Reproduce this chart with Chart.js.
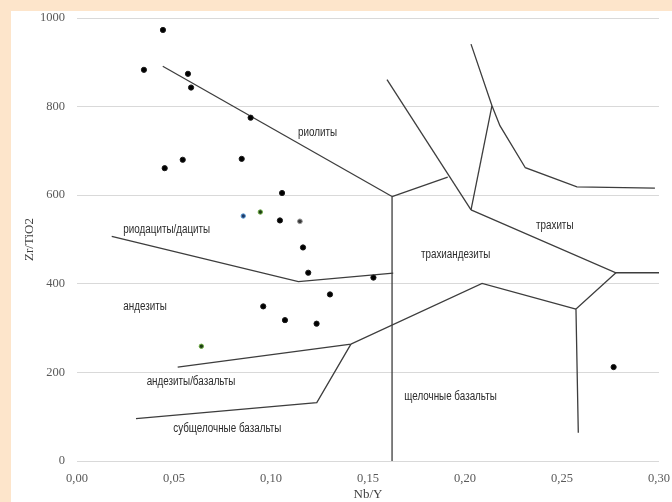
<!DOCTYPE html>
<html>
<head>
<meta charset="utf-8">
<script src="https://cdn.jsdelivr.net/npm/chart.js@4.4.1/dist/chart.umd.min.js"></script>
<style>
    html, body { margin: 0; padding: 0; background: #fde5cb; }
    #wrap { position: absolute; left: 11px; top: 11px; width: 661px; height: 491px; background: #fff; }
</style>
</head>
<body>
<div id="wrap"><canvas id="wfChart"></canvas></div>
<script>
// Оси
const xMin = 0, xMax = 0.30, xStep = 0.05;
const yMin = 0, yMax = 1000, yStep = 200;

// Границы полей (Nb/Y, Zr/TiO2)
const rhyoliteEdge = [[0.0442, 891], [0.1624, 597]];
const alkaliDivide = [[0.1624, 597], [0.1624, 0]];
const rhyoliteTrachyEdge = [[0.1624, 597], [0.1911, 641]];
const comenditeEdge = [[0.1598, 861], [0.2031, 567]];
const trachyteWedge = [[0.2031, 567], [0.2139, 802]];
const phonoliteEdge = [[0.2031, 941], [0.2139, 802], [0.2180, 757], [0.2311, 662], [0.2577, 619], [0.2979, 616]];
const trachyteEdge = [[0.2031, 567], [0.2778, 425], [0.30, 425]];
const basaniteEdge = [[0.2778, 425], [0.2572, 343], [0.2584, 64]];
const trachyandesiteEdge = [[0.2572, 343], [0.2088, 401], [0.1412, 264], [0.0519, 212]];
const subalkalineEdge = [[0.1412, 264], [0.1236, 132], [0.0304, 95.5]];
const daciteEdge = [[0.0179, 507], [0.1141, 405], [0.1630, 424]];

const boundaries = [rhyoliteEdge, alkaliDivide, rhyoliteTrachyEdge, comenditeEdge, trachyteWedge,
    phonoliteEdge, trachyteEdge, basaniteEdge, trachyandesiteEdge, subalkalineEdge, daciteEdge];

// Пробы
const samplesA = [[0.0443, 973], [0.0345, 883], [0.0572, 874], [0.0588, 843], [0.0895, 775],
    [0.0849, 682], [0.0545, 680], [0.0452, 661], [0.1057, 605], [0.1046, 543], [0.1165, 482],
    [0.1192, 425], [0.1304, 376], [0.0960, 349], [0.1072, 318], [0.1235, 310], [0.1528, 414],
    [0.2766, 212]];
const samplesB = [[0.0857, 553]];
const samplesC = [[0.0945, 562], [0.0641, 259]];
const samplesD = [[0.1149, 541]];

// Подписи полей
const fieldNames = ['риолиты', 'риодациты/дациты', 'андезиты', 'андезиты/базальты',
    'субщелочные базальты', 'щелочные базальты', 'трахиандезиты', 'трахиты'];
const fieldNbY = [0.1139, 0.0239, 0.0239, 0.0359, 0.0496, 0.1687, 0.1773, 0.2366];
const fieldZr = [742, 522, 348, 179, 73, 145, 465, 531];

function toXY(list) {
    return list.map(function(p) { return { x: p[0], y: p[1] }; });
}

function pointSet(list, fill, edge, radius) {
    return {
        data: toXY(list),
        showLine: false,
        pointRadius: radius,
        pointBackgroundColor: fill,
        pointBorderColor: edge,
        pointBorderWidth: 1,
        order: 0
    };
}

const datasets = boundaries.map(function(b) {
    return {
        data: toXY(b),
        showLine: true,
        borderColor: '#3d3d3d',
        borderWidth: 1.3,
        pointRadius: 0,
        fill: false,
        tension: 0,
        order: 1
    };
});
datasets.push(pointSet(samplesA, '#000', '#1a1a1a', 2.6));
datasets.push(pointSet(samplesB, '#1f3864', '#5b9bd5', 2.2));
datasets.push(pointSet(samplesC, '#1e3d14', '#70ad47', 2.2));
datasets.push(pointSet(samplesD, '#3a3a3a', '#9a9a9a', 2.4));

// Подписи полей рисуем узким шрифтом
const fieldLabels = {
    id: 'fieldLabels',
    afterDatasetsDraw(chart) {
        const ctx = chart.ctx;
        const xs = chart.scales.x, ys = chart.scales.y;
        ctx.save();
        ctx.font = '12px "Liberation Sans", Arial, sans-serif';
        ctx.fillStyle = '#2b2b2b';
        ctx.textAlign = 'left';
        ctx.textBaseline = 'middle';
        fieldNames.forEach(function(name, i) {
            ctx.save();
            ctx.translate(xs.getPixelForValue(fieldNbY[i]), ys.getPixelForValue(fieldZr[i]));
            ctx.scale(0.82, 1);
            ctx.fillText(name, 0, 0);
            ctx.restore();
        });
        ctx.restore();
    }
};

function noScalePadding(scale) {
    scale.paddingTop = 0;
    scale.paddingBottom = 0;
    scale.paddingLeft = 0;
    scale.paddingRight = 0;
}

new Chart(document.getElementById('wfChart'), {
    type: 'scatter',
    data: { datasets: datasets },
    options: {
        responsive: true,
        maintainAspectRatio: false,
        animation: false,
        layout: { padding: { top: 7, right: 13, left: 0, bottom: 0 } },
        plugins: {
            legend: { display: false },
            tooltip: { enabled: false }
        },
        scales: {
            x: {
                type: 'linear',
                min: xMin,
                max: xMax,
                afterFit: function(scale) { scale.height = 41; noScalePadding(scale); },
                grid: { display: false },
                border: { display: false },
                ticks: {
                    stepSize: xStep,
                    padding: 2,
                    color: '#595959',
                    font: { family: '"Liberation Serif", "DejaVu Serif", serif', size: 12.5 },
                    callback: function(v) { return v.toFixed(2).replace('.', ','); }
                },
                title: {
                    display: true,
                    text: 'Nb/Y',
                    color: '#404040',
                    padding: { top: 0, bottom: 0 },
                    font: { family: '"Liberation Serif", "DejaVu Serif", serif', size: 13 }
                }
            },
            y: {
                type: 'linear',
                min: yMin,
                max: yMax,
                afterFit: function(scale) { scale.width = 66; noScalePadding(scale); },
                grid: { color: '#d9d9d9', drawTicks: false, lineWidth: 1 },
                border: { display: false },
                ticks: {
                    stepSize: yStep,
                    padding: 12,
                    color: '#595959',
                    font: { family: '"Liberation Serif", "DejaVu Serif", serif', size: 12.5 },
                    callback: function(v) { return String(v); }
                },
                title: {
                    display: true,
                    text: 'Zr/TiO2',
                    color: '#404040',
                    padding: { top: 11, bottom: 0 },
                    font: { family: '"Liberation Serif", "DejaVu Serif", serif', size: 13 }
                }
            }
        }
    },
    plugins: [fieldLabels]
});
</script>
</body>
</html>
